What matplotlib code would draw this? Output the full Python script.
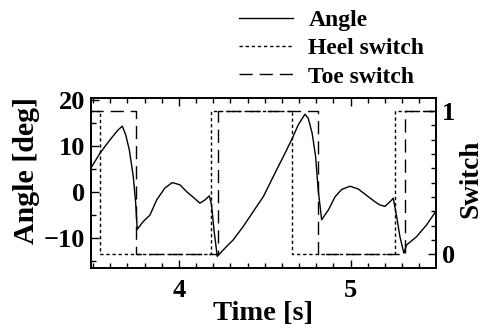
import matplotlib
matplotlib.use('Agg')
import matplotlib.pyplot as plt
from matplotlib.ticker import MultipleLocator

plt.rcParams['font.family'] = 'Liberation Serif'
plt.rcParams['font.weight'] = 'bold'

# angle trace
time = [3.486, 3.540, 3.598, 3.646, 3.670, 3.690, 3.711, 3.734, 3.748, 3.757,
        3.792, 3.831, 3.870, 3.918, 3.961, 4.006, 4.045, 4.083, 4.122, 4.151,
        4.177, 4.190, 4.204, 4.223, 4.268, 4.316, 4.374, 4.433, 4.491, 4.540,
        4.588, 4.607, 4.656, 4.695, 4.734, 4.753, 4.776, 4.796, 4.811, 4.831,
        4.870, 4.909, 4.948, 4.996, 5.044, 5.103, 5.142, 5.171, 5.200, 5.239,
        5.248, 5.268, 5.287, 5.310, 5.326, 5.384, 5.443, 5.501]
angle = [5.1, 8.4, 11.3, 13.5, 14.3, 12.4, 9.1, 3.3, -2.5, -8.2,
         -6.5, -5.1, -1.8, 0.8, 2.0, 1.5, 0.0, -1.2, -2.5, -1.8,
         -0.9, -2.9, -8.3, -14.1, -12.3, -10.5, -7.6, -4.3, -1.1, 2.6,
         6.2, 7.6, 11.3, 14.6, 16.9, 16.0, 12.7, 7.6, 0.4, -6.1,
         -4.0, -1.1, 0.5, 1.2, 0.6, -1.1, -2.2, -2.9, -3.2, -1.8,
         -1.4, -5.4, -9.8, -13.4, -11.6, -9.8, -7.2, -4.0]

# switch states (step changes)
heel_t = [3.48, 3.540, 4.186, 4.660, 5.258, 5.51]
heel_v = [1, 0, 1, 0, 1, 1]
toe_t = [3.48, 3.748, 4.229, 4.811, 5.316, 5.51]
toe_v = [1, 0, 1, 0, 1, 1]

fig = plt.figure(figsize=(4.84, 3.29), dpi=100)
ax = fig.add_axes([0.1874, 0.1845, 0.7134, 0.5185])
ax2 = ax.twinx()

l1, = ax.plot(time, angle, color='black', lw=1.0)
l2, = ax2.step(heel_t, heel_v, where='post', color='black', lw=1.0, dashes=(2.4, 2.0))
l3, = ax2.step(toe_t, toe_v, where='post', color='black', lw=1.0, dashes=(9.5, 5.0))

ax.set_xlim(3.486, 5.497)
ax.set_ylim(-16.7, 20.5)
ax2.set_ylim(-0.098, 1.093)

ax.xaxis.set_major_locator(MultipleLocator(1))
ax.xaxis.set_minor_locator(MultipleLocator(0.1))
ax.yaxis.set_major_locator(MultipleLocator(10))
ax.yaxis.set_minor_locator(MultipleLocator(5))
ax2.yaxis.set_major_locator(MultipleLocator(1))
ax2.yaxis.set_minor_locator(MultipleLocator(0.1))

ax.tick_params(which='both', direction='in', top=True, right=False, labelsize=19, width=1)
ax.tick_params(which='major', length=6, pad=4)
ax.tick_params(axis='x', which='major', pad=8)
ax.tick_params(which='minor', length=3.5)
ax2.tick_params(which='both', direction='in', labelsize=19, width=1)
ax2.tick_params(which='major', length=6, pad=4)
ax2.tick_params(which='minor', length=3.5)

for a in (ax, ax2):
    for s in a.spines.values():
        s.set_linewidth(1.2)

ax.set_xlabel('Time [s]', fontsize=20.5, fontweight='bold', labelpad=-1)
ax.set_ylabel('Angle [deg]', fontsize=21.5, fontweight='bold')
ax.yaxis.set_label_coords(-0.148, 0.576)
ax2.set_ylabel('Switch', fontsize=19.5, fontweight='bold')
ax2.yaxis.set_label_coords(1.064, 0.523)

fig.legend([l1, l2, l3], ['Angle', 'Heel switch', 'Toe switch'],
           loc='upper left', bbox_to_anchor=(0.4735, 1.0), frameon=False,
           fontsize=17, handlelength=2.3, handletextpad=0.65, labelspacing=0.29,
           borderaxespad=0)

fig.savefig('out.png', dpi=100)
